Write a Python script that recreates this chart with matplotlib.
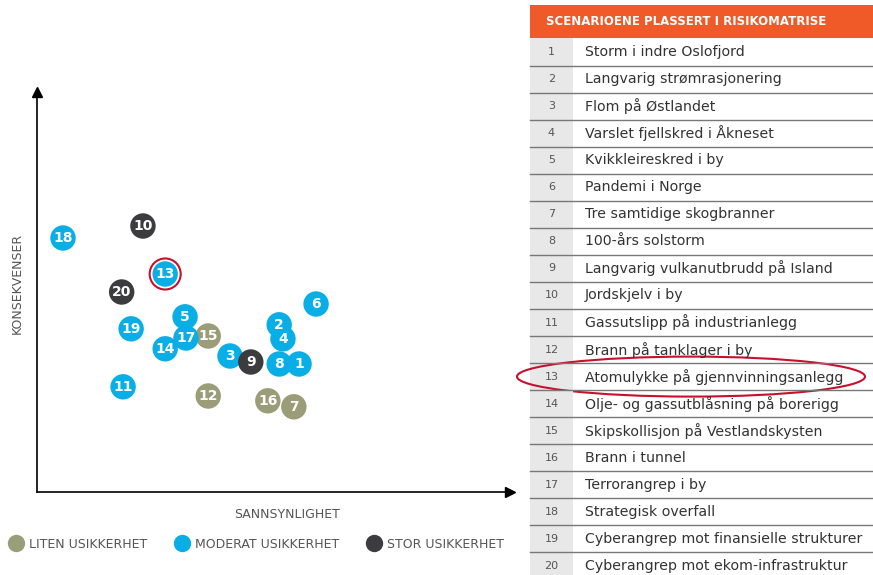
import numpy as np
import matplotlib
matplotlib.use("Agg")
import matplotlib.pyplot as plt
from matplotlib.patches import Rectangle, Ellipse
from matplotlib.lines import Line2D

# ------------------------------------------------------------
# Data
# ------------------------------------------------------------
ids = [1, 2, 3, 4, 5, 6, 7, 8, 9, 10, 11, 12, 13, 14, 15, 16, 17, 18, 19, 20]
sannsynlighet = [55.4, 51.2, 40.8, 52.0, 31.3, 59.0, 54.3, 51.2, 45.2, 22.4,
                 18.2, 36.2, 27.1, 27.1, 36.2, 48.8, 31.5, 5.5, 19.9, 17.9]
konsekvenser = [32.0, 41.8, 34.0, 38.3, 43.8, 47.0, 21.3, 32.0, 32.5, 66.5,
                26.3, 24.0, 54.5, 35.8, 39.0, 22.8, 38.5, 63.5, 40.8, 50.0]
usikkerhet = ["moderat", "moderat", "moderat", "moderat", "moderat", "moderat",
              "liten", "moderat", "stor", "stor", "moderat", "liten", "moderat",
              "moderat", "liten", "liten", "moderat", "moderat", "moderat", "stor"]

scenarier = [
    "Storm i indre Oslofjord",
    "Langvarig strømrasjonering",
    "Flom på Østlandet",
    "Varslet fjellskred i Åkneset",
    "Kvikkleireskred i by",
    "Pandemi i Norge",
    "Tre samtidige skogbranner",
    "100-års solstorm",
    "Langvarig vulkanutbrudd på Island",
    "Jordskjelv i by",
    "Gassutslipp på industrianlegg",
    "Brann på tanklager i by",
    "Atomulykke på gjennvinningsanlegg",
    "Olje- og gassutblåsning på borerigg",
    "Skipskollisjon på Vestlandskysten",
    "Brann i tunnel",
    "Terrorangrep i by",
    "Strategisk overfall",
    "Cyberangrep mot finansielle strukturer",
    "Cyberangrep mot ekom-infrastruktur",
]

legend_keys = ["liten", "moderat", "stor"]
legend_labels = ["LITEN USIKKERHET", "MODERAT USIKKERHET", "STOR USIKKERHET"]
colors = {"liten": "#9b9c78", "moderat": "#0aaee6", "stor": "#3c3c3f"}
highlight_id = 13

# ------------------------------------------------------------
# Figure
# ------------------------------------------------------------
W, H = 873, 575
fig = plt.figure(figsize=(W / 100, H / 100), dpi=100)

# scatter axes (pixel box: x 37..510, y 92..492)
ax = fig.add_axes([37 / W, (H - 492) / H, (510 - 37) / W, (492 - 92) / H])
ax.set_xlim(0, 100)
ax.set_ylim(0, 100)
for side in ["top", "right"]:
    ax.spines[side].set_visible(False)
for side in ["left", "bottom"]:
    ax.spines[side].set_linewidth(1.2)
ax.set_xticks([])
ax.set_yticks([])
ax.patch.set_alpha(0)
ax.plot(1, 0, ">", color="black", ms=7, transform=ax.transAxes, clip_on=False)
ax.plot(0, 1, "^", color="black", ms=7, transform=ax.transAxes, clip_on=False)

for i, x, y, u in zip(ids, sannsynlighet, konsekvenser, usikkerhet):
    ax.scatter(x, y, s=335, color=colors[u], edgecolor="none", zorder=3)
    ax.text(x, y, str(i), ha="center", va="center", color="white",
            fontsize=10, fontweight="bold", zorder=4)
    if i == highlight_id:
        ax.scatter(x, y, s=500, facecolor="none", edgecolor="#c8102e",
                   linewidth=1.5, zorder=5)

fig.text(17 / W, 1 - 283 / H, "KONSEKVENSER", rotation=90, ha="center",
         va="center", fontsize=9, color="#555555")
fig.text(287 / W, 1 - 515 / H, "SANNSYNLIGHET", ha="center", va="center",
         fontsize=9, color="#555555")

handles = [Line2D([], [], marker="o", ls="none", ms=12.5, color=colors[k],
                  markeredgecolor="none") for k in legend_keys]
fig.legend(handles, legend_labels, loc="center left", ncol=3, frameon=False,
           bbox_to_anchor=(-2 / W, 1 - 544 / H), fontsize=9, handlelength=1.0,
           handletextpad=0.55, columnspacing=2.3, labelcolor="#555555")

# ------------------------------------------------------------
# Table (overlay axes in pixel units)
# ------------------------------------------------------------
ov = fig.add_axes([0, 0, 1, 1])
ov.set_xlim(0, W)
ov.set_ylim(H, 0)
ov.axis("off")
ov.patch.set_alpha(0)

tx0, tx1, num_w = 530, 873, 43
ov.add_patch(Rectangle((tx0, 5), tx1 - tx0, 33, color="#f05a28", lw=0))
ov.text(tx0 + 16, 21.5, "SCENARIOENE PLASSERT I RISIKOMATRISE", color="white",
        fontsize=8.5, fontweight="bold", va="center", ha="left")

row_h = 27.05
y_first = 52
for k, name in enumerate(scenarier):
    yc = y_first + k * row_h
    ov.add_patch(Rectangle((tx0, yc - row_h / 2), num_w, row_h,
                           color="#e8e8e8", lw=0))
    ov.text(tx0 + num_w / 2, yc, str(ids[k]), ha="center", va="center",
            fontsize=8, color="#555555")
    ov.text(tx0 + 55, yc, name, ha="left", va="center", fontsize=10.2,
            color="#333333")
    ov.plot([tx0, tx1], [yc + row_h / 2, yc + row_h / 2], color="#777777", lw=1)
    if ids[k] == highlight_id:
        ov.add_patch(Ellipse((691, yc), 348, 40, facecolor="none",
                             edgecolor="#c8102e", lw=1.5))

fig.savefig("out.png", dpi=100)
